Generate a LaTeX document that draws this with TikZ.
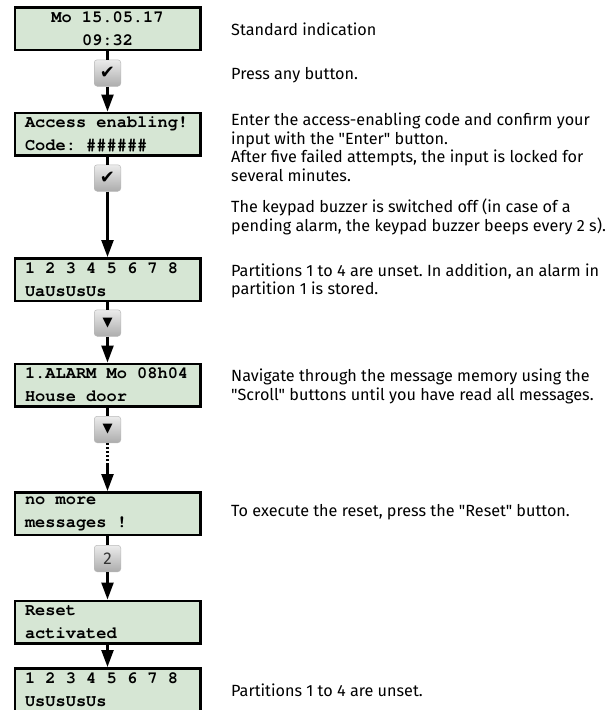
\documentclass[tikz,border=0pt]{standalone}
\usepackage{fontspec}
\setmainfont{Fira Sans}[Ligatures=TeXOff]
\newfontfamily\lcdfont{texgyrecursor}[Extension=.otf, UprightFont=*-regular, BoldFont=*-bold]
\newfontfamily\symfont{DejaVu Sans}
\usepackage{tikz}
\usepackage{xcolor}
\usetikzlibrary{arrows.meta}
\definecolor{lcdgreen}{RGB}{214,230,212}
\newcommand{\lsp}{\hspace*{0.6em}}
\frenchspacing

\begin{document}
\begin{tikzpicture}[x=1pt, y=-1pt,
    lcd/.style={draw=black, line width=2.5pt, fill=lcdgreen, minimum width=185.5pt, minimum height=42.5pt,
        inner xsep=10pt, inner ysep=0pt, text width=165pt, align=left,
        font=\lcdfont\bfseries\fontsize{17}{23}\selectfont},
    key/.style={draw=gray!55, line width=0.5pt, rounded corners=3pt, minimum size=26.5pt, inner sep=0pt,
        top color=gray!15, bottom color=gray!65, font=\symfont\fontsize{18}{18}\selectfont},
    desc/.style={anchor=west, inner sep=0pt, align=left, font=\fontsize{16.2}{18.5}\selectfont},
    link/.style={line width=2.4pt},
    arr/.style={link, -{Triangle[width=12pt,length=17pt]}}]
    \useasboundingbox (0,0) rectangle (616,710);

    % displays
    \node[lcd, align=center] (d1) at (107.5,28.5) {Mo\lsp 15.05.17\\09:32};
    \node[lcd] (d2) at (107.5,134) {Access\lsp enabling!\\Code:\lsp \#\#\#\#\#\#};
    \node[lcd] (d3) at (107.5,279.5) {1\lsp 2\lsp 3\lsp 4\lsp 5\lsp 6\lsp 7\lsp 8\\UaUsUsUs};
    \node[lcd] (d4) at (107.5,385) {1.ALARM\lsp Mo\lsp 08h04\\House\lsp door};
    \node[lcd] (d5) at (107.5,513.5) {no\lsp more\\messages\lsp !};
    \node[lcd] (d6) at (107.5,622) {Reset\\activated};
    \node[lcd] (d7) at (107.5,689.5) {1\lsp 2\lsp 3\lsp 4\lsp 5\lsp 6\lsp 7\lsp 8\\UsUsUsUs};

    % keys
    \node[key] (k1) at (107.5,73) {✔};
    \node[key] (k2) at (107.5,178) {✔};
    \node[key] (k3) at (107.5,323) {\fontsize{13}{13}\selectfont ▼};
    \node[key] (k4) at (107.5,429.5) {\fontsize{13}{13}\selectfont ▼};
    \node[key, font=\fontsize{17}{17}\selectfont, text=black!80] (k5) at (107.5,558.5) {2};
    \coordinate (gap) at (107.5,464);

    % connectors
    \draw[link] (d1) -- (k1);
    \draw[arr] (k1) -- (d2);
    \draw[link] (d2) -- (k2);
    \draw[arr] (k2) -- (d3);
    \draw[link] (d3) -- (k3);
    \draw[arr] (k3) -- (d4);
    \draw[link] (d4) -- (k4);
    \draw[link, dash pattern=on 2pt off 2pt] (k4) -- (gap);
    \draw[arr] (gap) -- (d5);
    \draw[link] (d5) -- (k5);
    \draw[arr] (k5) -- (d6);
    \draw[arr] (d6) -- (d7);

    % descriptions
    \node[desc] (t1) at (231,29) {Standard indication};
    \node[desc] (t2) at (231,75) {Press any button.};
    \node[desc] (t3) at (231,147.5) {Enter the access-enabling code and confirm your\\input with the "Enter" button.\\After five failed attempts, the input is locked for\\several minutes.};
    \node[desc] (t4) at (231,217) {The keypad buzzer is switched off (in case of a\\pending alarm, the keypad buzzer beeps every 2 s).};
    \node[desc] (t5) at (231,281) {Partitions 1 to 4 are unset. In addition, an alarm in\\partition 1 is stored.};
    \node[desc] (t6) at (231,386.5) {Navigate through the message memory using the\\"Scroll" buttons until you have read all messages.};
    \node[desc] (t7) at (231,512) {To execute the reset, press the "Reset" button.};
    \node[desc] (t8) at (231,690) {Partitions 1 to 4 are unset.};
\end{tikzpicture}
\end{document}
